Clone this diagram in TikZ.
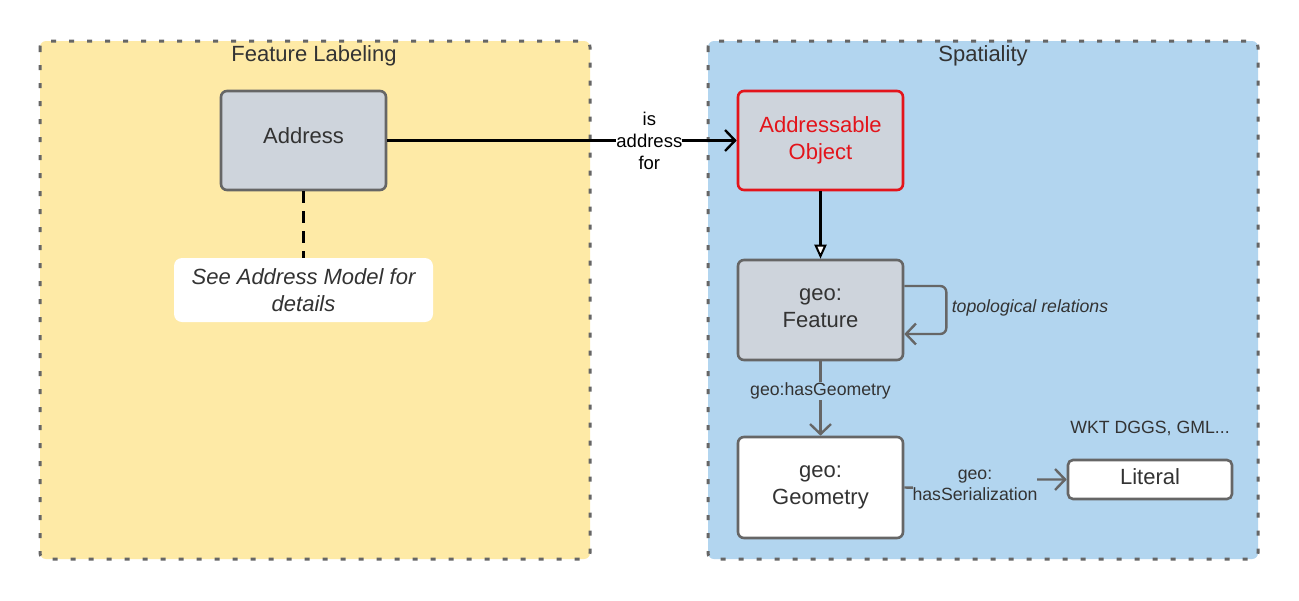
\documentclass[tikz,border=0pt]{standalone}
\usepackage{fontspec}
\setmainfont{Liberation Sans}
\usetikzlibrary{arrows.meta}
\definecolor{yel}{HTML}{FEEAA6}
\definecolor{blu}{HTML}{B2D5EF}
\definecolor{gbox}{HTML}{CED4DC}
\definecolor{edge}{HTML}{666666}
\definecolor{txt}{HTML}{333333}
\definecolor{redb}{HTML}{E3141B}
\begin{document}
\begin{tikzpicture}[x=1pt,y=-1pt,
  group/.style={draw=edge,line width=3pt,dash pattern=on 5pt off 13pt,rounded corners=6pt},
  cls/.style={draw=edge,line width=2.6pt,rounded corners=6pt,fill=gbox,text=txt,font=\fontsize{22}{27}\selectfont,align=center,inner sep=0pt},
  lab/.style={text=txt,font=\fontsize{17.7}{21}\selectfont,align=center,inner sep=1pt},
  open/.style={-{Straight Barb[length=10pt,width=21pt,line width=2.4pt]}}
]
\useasboundingbox (0,0) rectangle (1299,600);
\fill[white] (0,0) rectangle (1299,600);
% groups
\draw[group,fill=yel] (40,41) rectangle (590,559);
\draw[group,fill=blu] (708,41) rectangle (1258,559);
\node[text=txt,font=\fontsize{22}{26}\selectfont] (t1) at (314,56) {Feature Labeling};
\node[text=txt,font=\fontsize{22}{26}\selectfont] (t2) at (983,56) {Spatiality};
% nodes
\node[cls,minimum width=165pt,minimum height=99pt] (addr) at (303.5,140.5) {Address\rule[-9pt]{0pt}{0pt}};
\node[fill=white,rounded corners=8pt,minimum width=259pt,minimum height=64pt,text=txt,font=\itshape\fontsize{22}{27}\selectfont,align=center,inner sep=0pt] (note) at (303.5,290) {See Address Model for\\details};
\node[cls,draw=redb,text=redb,minimum width=165pt,minimum height=99pt] (ao) at (820.5,140.5) {Addressable\\Object};
\node[cls,minimum width=165pt,minimum height=100pt] (feat) at (820.5,310) {geo:\\Feature\rule[-4pt]{0pt}{0pt}};
\node[cls,fill=white,minimum width=165pt,minimum height=101pt] (geom) at (820.5,487.5) {geo:\\Geometry};
\node[cls,fill=white,minimum width=164pt,minimum height=39pt,rounded corners=5pt] (lit) at (1150,479.5) {Literal\rule[-5pt]{0pt}{0pt}};
\node[lab] (wkt) at (1150,428) {WKT DGGS, GML...};
\node[lab,font=\itshape\fontsize{17.7}{21}\selectfont] (topo) at (1030,308) {topological relations};
% connectors
\draw[black,line width=2.4pt,dash pattern=on 12pt off 8pt] (addr.south) -- (note.north);
\draw[black,line width=2.4pt,open] (addr.east) -- node[lab,text=black,fill=white,inner sep=0pt,pos=0.75,font=\fontsize{18.5}{22}\selectfont] {is\\address\\for} (ao.west);
\draw[black,line width=2.2pt,-{Triangle[open,fill=white,length=14pt,width=12pt,line width=2pt]}] (ao.south) -- (feat.north);
\draw[edge,line width=2.4pt,open,rounded corners=6pt] ([yshift=24pt]feat.east) -- ++(42,0) |- ([yshift=-24pt]feat.east);
\draw[edge,line width=2.4pt,open] (feat.south) -- node[lab,fill=blu,pos=0.4] {geo:hasGeometry} (geom.north);
\coordinate (mid) at (975,489);
\draw[edge,line width=2.4pt,open] (geom.east) -- (mid) -- (mid |- lit.west) -- (lit.west);
\node[lab,fill=blu,inner sep=0pt] (ser) at (975,485) {geo:\\hasSerialization};
\end{tikzpicture}
\end{document}
